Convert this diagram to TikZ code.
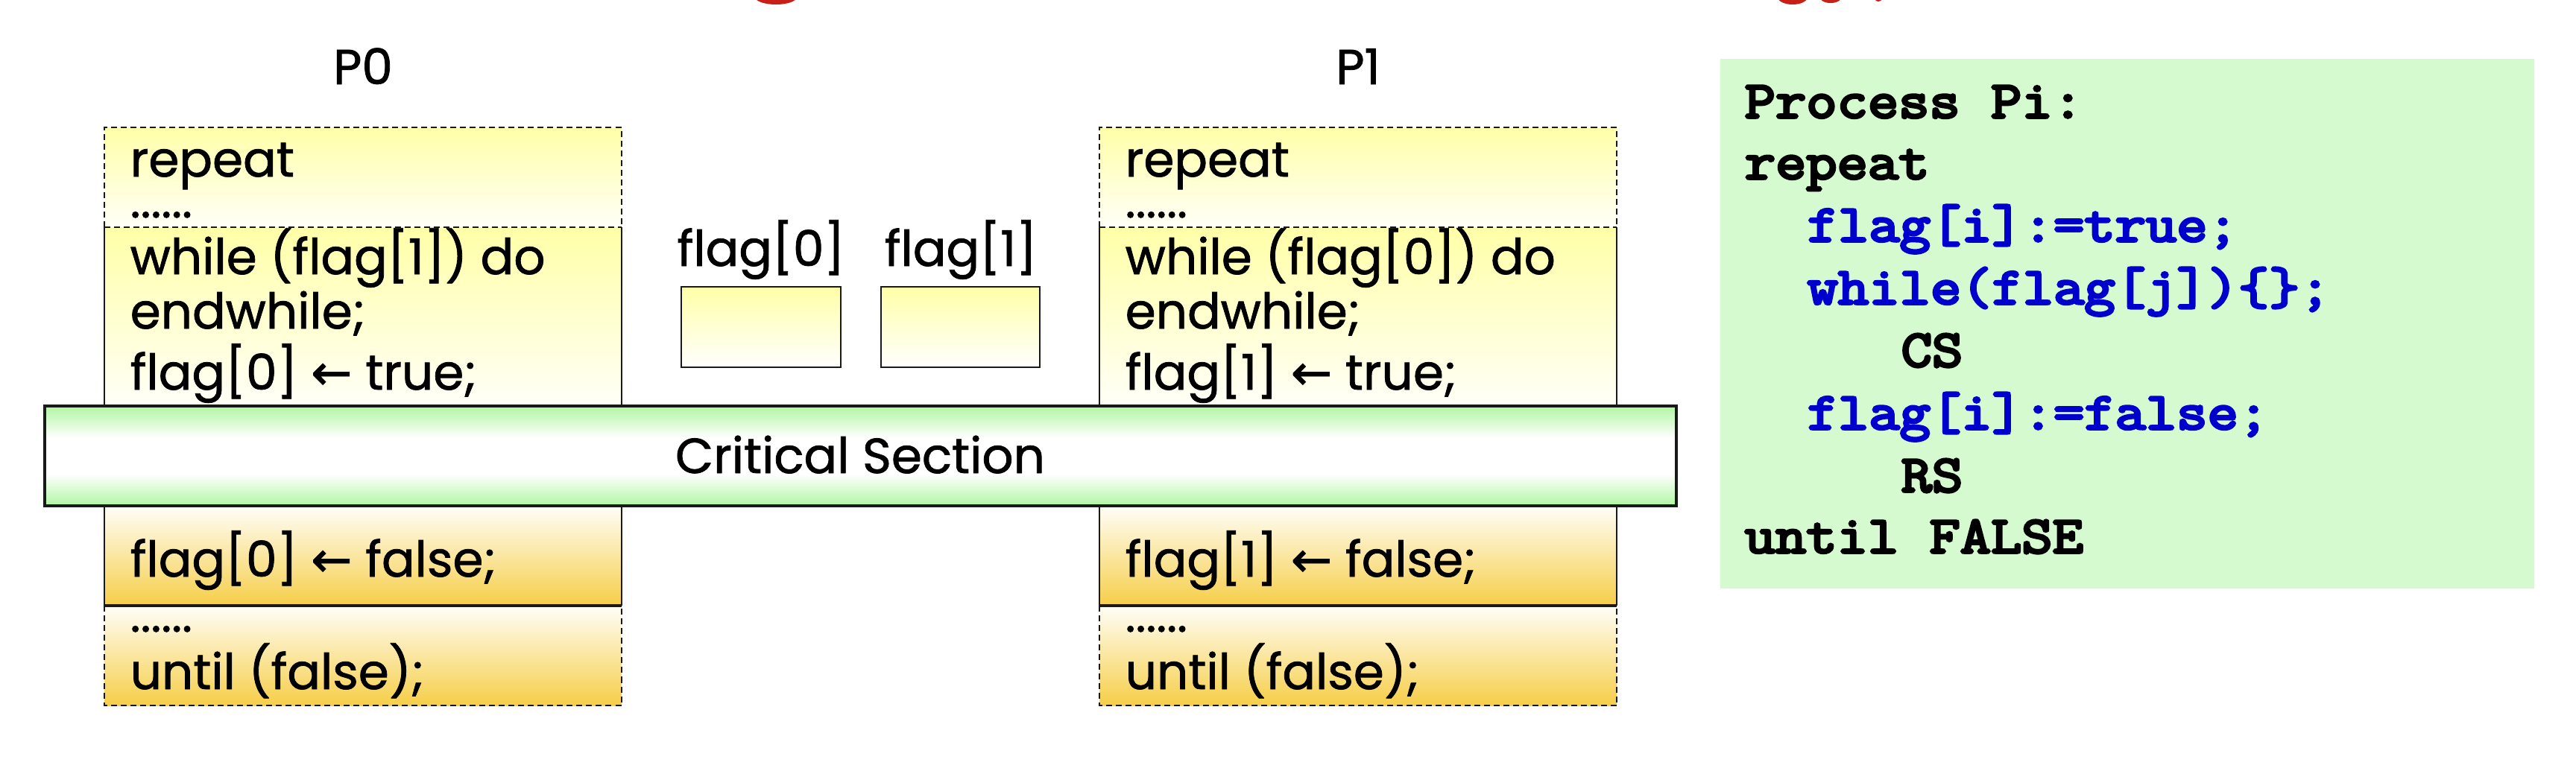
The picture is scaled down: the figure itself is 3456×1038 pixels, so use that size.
\documentclass[tikz,border=0pt]{standalone}
\usepackage{fontspec}
\setmainfont{Poppins}[FakeBold=1.2]
\newfontfamily\arrowfont{DejaVu Sans}[FakeBold=1.2]
\newfontfamily\codefont{Latin Modern Mono}[FakeBold=5, FakeStretch=1.14]
\definecolor{yelTop}{RGB}{255,255,168}
\definecolor{yelBot}{RGB}{255,255,248}
\definecolor{orgTop}{RGB}{255,254,248}
\definecolor{orgBot}{RGB}{246,206,72}
\definecolor{csGreen}{RGB}{176,246,162}
\definecolor{codeBg}{RGB}{214,250,208}
\definecolor{codeBlue}{RGB}{0,0,204}
\definecolor{lineClr}{RGB}{25,25,25}
\definecolor{titleRed}{RGB}{200,32,24}
\pgfdeclareverticalshading{csshade}{100bp}{color(0bp)=(csGreen); color(25bp)=(csGreen); color(41bp)=(white); color(59bp)=(white); color(75bp)=(csGreen); color(100bp)=(csGreen)}
\newcommand{\myarrow}{{\arrowfont ←}}
\tikzset{
  edge/.style={line width=0.6pt, draw=lineClr},
  dashedge/.style={edge, dash pattern=on 0.08cm off 0.05cm},
  body/.style={font=\fontsize{18.8}{20}\selectfont, anchor=base west, inner sep=0},
  lab/.style={font=\fontsize{18.8}{20}\selectfont, anchor=base, inner sep=0},
  code/.style={font=\codefont\fontsize{20}{22}\selectfont, anchor=base west, inner sep=0},
}
\begin{document}
\begin{tikzpicture}[x=0.01cm,y=-0.01cm]
\useasboundingbox (0,0) rectangle (3456,1038);

% clipped red fragments of a title above the picture
\begin{scope}
\clip (0,0) rectangle (3456,1038);
\fill[titleRed] (1041,-4) ellipse [x radius=0.28cm, y radius=0.1cm];
\fill[titleRed] (2405,-4) ellipse [x radius=0.2cm, y radius=0.1cm];
\fill[titleRed] (2456,-6) ellipse [x radius=0.16cm, y radius=0.1cm];
\fill[titleRed] (2520,-8) ellipse [x radius=0.07cm, y radius=0.1cm];
\end{scope}

% ---------- P0 column ----------
\shade[top color=yelTop, bottom color=yelBot] (140,171) rectangle (834,305);
\shade[top color=yelTop, bottom color=yelBot] (140,305) rectangle (834,545);
\shade[top color=orgTop, bottom color=orgBot] (140,679) rectangle (834,813);
\shade[top color=orgTop, bottom color=orgBot] (140,813) rectangle (834,947);
\draw[dashedge] (140,305) -- (140,171) -- (834,171) -- (834,305);
\draw[dashedge] (140,305) -- (834,305);
\draw[edge] (140,305) -- (140,545);
\draw[edge] (834,305) -- (834,545);
\draw[edge] (140,679) -- (140,813);
\draw[edge] (834,679) -- (834,813);
\draw[edge, line width=1pt] (140,813) -- (834,813);
\draw[dashedge] (140,813) -- (140,947) -- (834,947) -- (834,813);

% ---------- P1 column ----------
\shade[top color=yelTop, bottom color=yelBot] (1475,171) rectangle (2169,305);
\shade[top color=yelTop, bottom color=yelBot] (1475,305) rectangle (2169,545);
\shade[top color=orgTop, bottom color=orgBot] (1475,679) rectangle (2169,813);
\shade[top color=orgTop, bottom color=orgBot] (1475,813) rectangle (2169,947);
\draw[dashedge] (1475,305) -- (1475,171) -- (2169,171) -- (2169,305);
\draw[dashedge] (1475,305) -- (2169,305);
\draw[edge] (1475,305) -- (1475,545);
\draw[edge] (2169,305) -- (2169,545);
\draw[edge] (1475,679) -- (1475,813);
\draw[edge] (2169,679) -- (2169,813);
\draw[edge, line width=1pt] (1475,813) -- (2169,813);
\draw[dashedge] (1475,813) -- (1475,947) -- (2169,947) -- (2169,813);

% ---------- flag boxes ----------
\shade[top color=yelTop, bottom color=white] (914,385) rectangle (1128,493);
\draw[edge] (914,385) rectangle (1128,493);
\shade[top color=yelTop, bottom color=white] (1182,385) rectangle (1395,493);
\draw[edge] (1182,385) rectangle (1395,493);
\node[lab] (f0lab) at (1021,357) {flag[0]};
\node[lab] (f1lab) at (1289,357) {flag[1]};

% ---------- Critical section ----------
\shade[shading=csshade] (60,545) rectangle (2249,679);
\draw[edge, line width=0.9pt] (60,545) rectangle (2249,679);
\node[lab] (cs) at (1154,635) {Critical Section};

% ---------- labels ----------
\node[lab] (p0) at (487,113) {P0};
\node[lab] (p1) at (1822,113) {P1};

% P0 texts
\node[body] (a1) at (174,237) {repeat};
\node[body] (a2) at (174,292) {......};
\node[body] (a3) at (174,368) {while (flag[1]) do};
\node[body] (a4) at (174,441) {endwhile;};
\node[body] (a5) at (174,523) {flag[0] \myarrow\ true;};
\node[body] (a6) at (174,774) {flag[0] \myarrow\ false;};
\node[body] (a7) at (174,848) {......};
\node[body] (a8) at (174,925) {until (false);};

% P1 texts
\node[body] (b1) at (1509,237) {repeat};
\node[body] (b2) at (1509,292) {......};
\node[body] (b3) at (1509,368) {while (flag[0]) do};
\node[body] (b4) at (1509,441) {endwhile;};
\node[body] (b5) at (1509,523) {flag[1] \myarrow\ true;};
\node[body] (b6) at (1509,774) {flag[1] \myarrow\ false;};
\node[body] (b7) at (1509,848) {......};
\node[body] (b8) at (1509,925) {until (false);};

% ---------- code box ----------
\fill[codeBg] (2308,79) rectangle (3400,790);
\node[code] (c1) at (2340,158) {Process Pi:};
\node[code] (c2) at (2340,240) {repeat};
\node[code, text=codeBlue] (c3) at (2424,324) {flag[i]:=true;};
\node[code, text=codeBlue] (c4) at (2424,408) {while(flag[j])\{\};};
\node[code] (c5) at (2550,492) {CS};
\node[code, text=codeBlue] (c6) at (2424,576) {flag[i]:=false;};
\node[code] (c7) at (2550,660) {RS};
\node[code] (c8) at (2340,742) {until FALSE};
\end{tikzpicture}
\end{document}
